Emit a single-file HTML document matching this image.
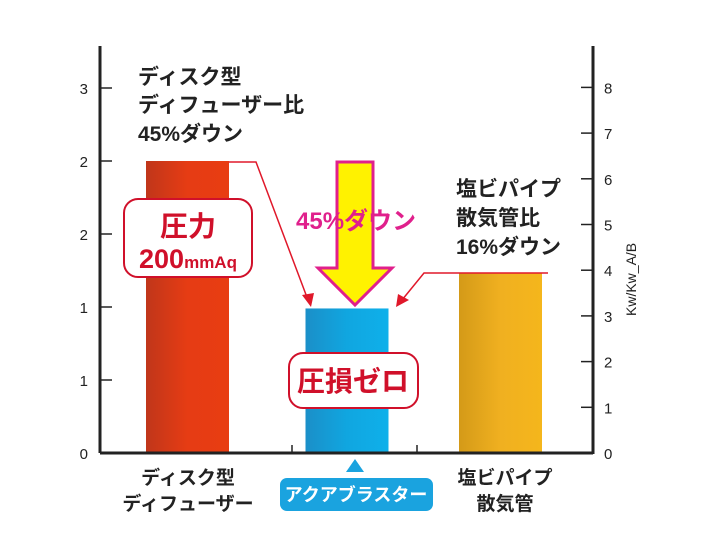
<!DOCTYPE html>
<html><head><meta charset="utf-8"><style>
body{margin:0;background:#fff}
svg{display:block}
text{font-family:"Liberation Sans","Noto Sans CJK JP",sans-serif}
</style></head><body>
<svg id="chart" width="720" height="560" viewBox="0 0 720 560">
<defs>
<linearGradient id="gr" x1="0" x2="1"><stop offset="0" stop-color="#c0361a"/><stop offset="0.5" stop-color="#e63c14"/><stop offset="1" stop-color="#e83d12"/></linearGradient>
<linearGradient id="gb" x1="0" x2="1"><stop offset="0" stop-color="#1b8fc8"/><stop offset="0.5" stop-color="#10a6e0"/><stop offset="1" stop-color="#0fb0ea"/></linearGradient>
<linearGradient id="gy" x1="0" x2="1"><stop offset="0" stop-color="#d49a18"/><stop offset="0.5" stop-color="#f0b020"/><stop offset="1" stop-color="#f5b61c"/></linearGradient>
</defs>
<g id="bars"></g>
<g id="axes"></g>
<g id="annot"></g>
</svg>
<script>
const categories=["ディスク型ディフューザー","アクアブラスター","塩ビパイプ散気管"];
const values=[2.0,0.99,1.23];
const leftTicks=[0,0.5,1,1.5,2,2.5];
const leftTickLabels=["0","1","1","2","2","3"];
const rightTicks=[0,1,2,3,4,5,6,7,8];
const NS="http://www.w3.org/2000/svg";
const x0=100,x1=593,base=453;
const yL=v=>base-v*146;
const yR=v=>base-v*45.7;
const barX=i=>146+i*159.5-(i==2?6:0);
const barW=83;
function mk(tag,attrs,parent,txt){const e=document.createElementNS(NS,tag);for(const k in attrs)e.setAttribute(k,attrs[k]);if(txt!==undefined)e.textContent=txt;parent.appendChild(e);return e;}
const bars=document.getElementById('bars'),axes=document.getElementById('axes'),an=document.getElementById('annot');
const fills=["url(#gr)","url(#gb)","url(#gy)"];
values.forEach((v,i)=>{
 const r=mk('rect',{x:barX(i),y:yL(v),width:barW,height:base-yL(v),fill:fills[i]},bars);
 
 
});
let l=mk('line',{x1:x0,y1:46,x2:x0,y2:base,stroke:'#222','stroke-width':3},axes);

l=mk('line',{x1:x1,y1:46,x2:x1,y2:base+1,stroke:'#222','stroke-width':3},axes);

l=mk('line',{x1:x0,y1:base,x2:x1,y2:base,stroke:'#222','stroke-width':3},axes);

[292,417].forEach(x=>{mk('line',{x1:x,y1:base,x2:x,y2:base-8,stroke:'#222','stroke-width':1.5},axes);});
leftTicks.forEach((t,i)=>{
 mk('line',{x1:x0,y1:yL(t),x2:x0+12,y2:yL(t),stroke:'#222','stroke-width':1.5},axes);
 const tx=mk('text',{x:88,y:yL(t)+6,'text-anchor':'end','font-size':15,fill:'#222'},axes,leftTickLabels[i]);
 
});
rightTicks.forEach(t=>{
 mk('line',{x1:x1-12,y1:yR(t),x2:x1,y2:yR(t),stroke:'#222','stroke-width':1.5},axes);
 const tx=mk('text',{x:604,y:yR(t)+6,'font-size':15,fill:'#222'},axes,String(t));
 
});
</script>
<svg width="720" height="560" style="position:absolute;left:0;top:0">
<text x="0" y="0" transform="translate(636,316) rotate(-90)" font-size="14" fill="#222" font-family="Liberation Sans">Kw/Kw_A/B</text>
<g font-family="Liberation Sans,Noto Sans CJK JP,sans-serif" font-weight="bold" fill="#222" font-size="21">
<text x="138" y="84">ディスク型</text><text x="138" y="112">ディフューザー比</text><text x="138" y="141">45%ダウン</text></g>
<g font-family="Liberation Sans,Noto Sans CJK JP,sans-serif" font-weight="bold" fill="#222" font-size="21">
<text x="456" y="196">塩ビパイプ</text><text x="456" y="225">散気管比</text><text x="456" y="254">16%ダウン</text></g>
<polyline points="229,162 256,162 308,300" fill="none" stroke="#e0182a" stroke-width="1.5"/>
<polygon points="311,307 302,295 314,293" fill="#e0182a"/>
<polyline points="548,273 424,273 402,300" fill="none" stroke="#e0182a" stroke-width="1.5"/>
<polygon points="396,307 398,294 409,300" fill="#e0182a"/>
<polygon points="337,162 373,162 373,268 392,268 355,305 318,268 337,268" fill="#fff200" stroke="#e0208c" stroke-width="3"/>
<text x="296" y="229" font-family="Liberation Sans,Noto Sans CJK JP,sans-serif" font-weight="bold" font-size="24" fill="#e0208c">45%ダウン</text>
<rect x="124" y="199" width="128" height="78" rx="14" fill="#fff" stroke="#d0102a" stroke-width="2"/>
<text x="188" y="236" text-anchor="middle" font-family="Liberation Sans,Noto Sans CJK JP,sans-serif" font-weight="bold" font-size="28" fill="#d0102a">圧力</text>
<text x="188" y="268" text-anchor="middle" font-family="Liberation Sans,Noto Sans CJK JP,sans-serif" font-weight="bold" fill="#d0102a"><tspan font-size="27">200</tspan><tspan font-size="17">mmAq</tspan></text>
<rect x="289" y="353" width="129" height="55" rx="14" fill="#fff" stroke="#d0102a" stroke-width="2"/>
<text x="353" y="391" text-anchor="middle" font-family="Liberation Sans,Noto Sans CJK JP,sans-serif" font-weight="bold" font-size="28" fill="#d0102a">圧損ゼロ</text>
<g font-family="Liberation Sans,Noto Sans CJK JP,sans-serif" font-weight="bold" fill="#222" font-size="19">
<text x="188" y="484" text-anchor="middle">ディスク型</text>
<text x="188" y="510" text-anchor="middle">ディフューザー</text>
<text x="505" y="484" text-anchor="middle">塩ビパイプ</text>
<text x="505" y="510" text-anchor="middle">散気管</text></g>
<polygon points="355,459 346,472 364,472" fill="#1aa3df"/>
<rect x="280" y="478" width="153" height="33" rx="7" fill="#1aa3df"/>
<text x="356" y="501" text-anchor="middle" font-family="Liberation Sans,Noto Sans CJK JP,sans-serif" font-weight="bold" font-size="18" fill="#fff">アクアブラスター</text>
</svg>
</body></html>
